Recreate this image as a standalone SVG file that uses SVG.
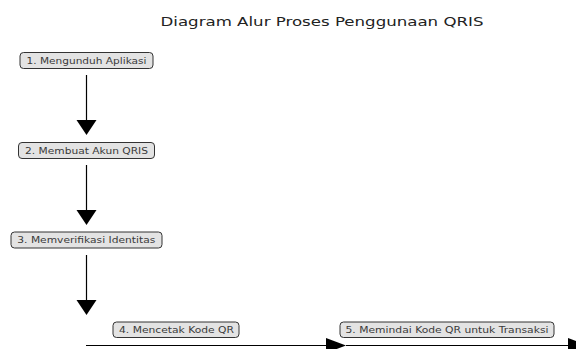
<svg xmlns="http://www.w3.org/2000/svg" width="576" height="349" viewBox="0 0 576 349">
<style>
.t{font-family:"DejaVu Sans","Liberation Sans",sans-serif;text-anchor:middle}
.title{font-size:12.5px;fill:#222}
.lbl{font-size:8.6px;fill:#3a3a3a}
.box{fill:#e3e3e3;stroke:#333;stroke-width:1}
.ln{stroke:#000;stroke-width:1.2;fill:none}
.hd{fill:#000}
</style>
<rect width="576" height="349" fill="#fff"/>
<text class="t title" x="322" y="26" textLength="323" lengthAdjust="spacingAndGlyphs">Diagram Alur Proses Penggunaan QRIS</text>
<g id="connectors">
<line class="ln" x1="86.5" y1="75" x2="86.5" y2="121"/>
<polygon class="hd" points="76.5,120 96.5,120 86.5,135"/>
<line class="ln" x1="86.5" y1="165" x2="86.5" y2="211"/>
<polygon class="hd" points="76.5,210 96.5,210 86.5,225"/>
<line class="ln" x1="86.5" y1="255" x2="86.5" y2="301"/>
<polygon class="hd" points="76.5,300 96.5,300 86.5,315"/>
<line class="ln" x1="86" y1="345.5" x2="327" y2="345.5"/>
<polygon class="hd" points="326,338 326,353 346,345.5"/>
<line class="ln" x1="346" y1="345.5" x2="569" y2="345.5"/>
<polygon class="hd" points="568,338 568,353 588,345.5"/>
</g>
<g id="node1">
<rect class="box" x="20" y="52.5" width="133" height="16" rx="3.5"/>
<text class="t lbl" x="86.5" y="63.5" textLength="120" lengthAdjust="spacingAndGlyphs">1. Mengunduh Aplikasi</text>
</g>
<g id="node2">
<rect class="box" x="18.5" y="142.5" width="136" height="16" rx="3.5"/>
<text class="t lbl" x="86.5" y="153.5" textLength="123" lengthAdjust="spacingAndGlyphs">2. Membuat Akun QRIS</text>
</g>
<g id="node3">
<rect class="box" x="11" y="232" width="151" height="16" rx="3.5"/>
<text class="t lbl" x="86.3" y="243" textLength="138" lengthAdjust="spacingAndGlyphs">3. Memverifikasi Identitas</text>
</g>
<g id="node4">
<rect class="box" x="113" y="322" width="126" height="15.5" rx="3.5"/>
<text class="t lbl" x="176.5" y="333" textLength="115" lengthAdjust="spacingAndGlyphs">4. Mencetak Kode QR</text>
</g>
<g id="node5">
<rect class="box" x="340" y="322" width="214" height="15.5" rx="3.5"/>
<text class="t lbl" x="447" y="333" textLength="203" lengthAdjust="spacingAndGlyphs">5. Memindai Kode QR untuk Transaksi</text>
</g>
</svg>
